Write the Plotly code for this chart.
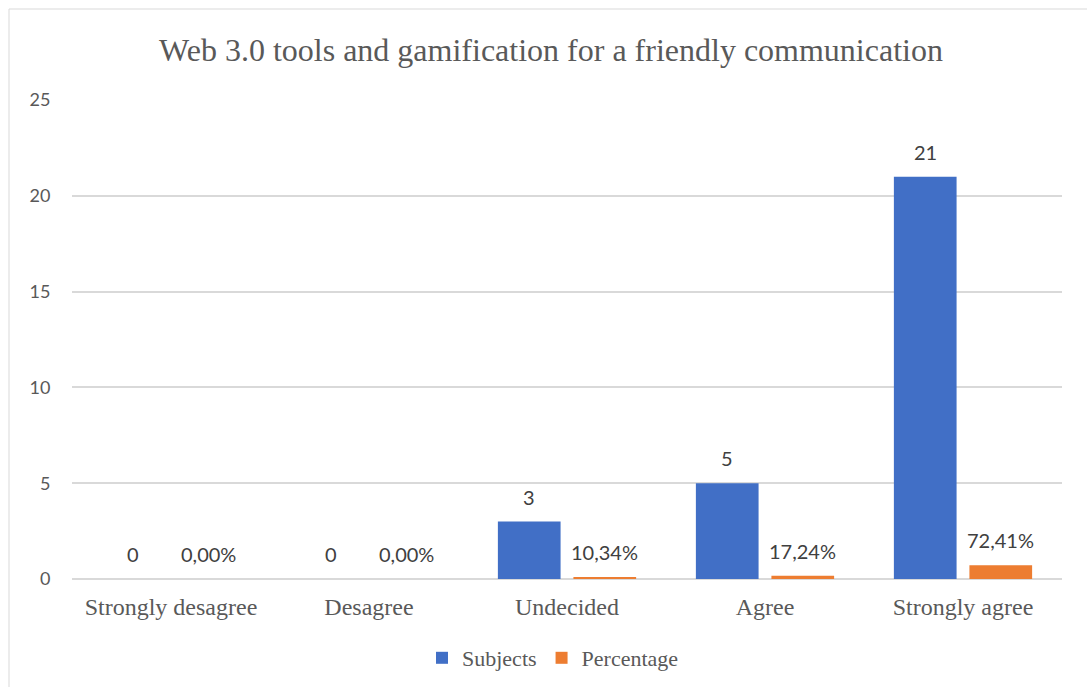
import plotly.graph_objects as go

categories = ["Strongly desagree", "Desagree", "Undecided", "Agree", "Strongly agree"]
subjects = [0, 0, 3, 5, 21]
percentage = [0.0, 0.0, 0.1034, 0.1724, 0.7241]
y_ticks = [0, 5, 10, 15, 20, 25]

W, H = 1087, 687
ml, mr, mt, mb = 72, 25, 100, 108
BARGAP, GROUPGAP = 0.237, 0.17

sans = "Lato, 'Noto Sans', sans-serif"
serif = "'Liberation Serif', 'Times New Roman', serif"

fig = go.Figure()
fig.add_trace(go.Bar(
    name="Subjects", x=categories, y=subjects,
    marker=dict(color="#416FC6", line=dict(width=0)),
))
fig.add_trace(go.Bar(
    name="Percentage", x=categories, y=percentage,
    marker=dict(color="#ED7D31", line=dict(width=0)),
))

# data labels, placed above each bar of the group
slot = (1 - BARGAP) / 2
annotations = []
for i, (s, p) in enumerate(zip(subjects, percentage)):
    annotations.append(dict(x=i - slot / 2, y=s, xref="x", yref="y",
                            text=f"{s}", showarrow=False, yanchor="middle", yshift=25,
                            font=dict(family=sans, size=20, color="#404040")))
    annotations.append(dict(x=i + slot / 2, y=p, xref="x", yref="y",
                            text=f"{p * 100:.2f}%".replace(".", ","), showarrow=False,
                            yanchor="middle", yshift=25,
                            font=dict(family=sans, size=20, color="#404040")))

pw = W - ml - mr
ph = H - mt - mb
# chart-area border (light gray frame)
x0 = (9 - ml) / pw
y1 = (H - mb - 9) / ph
x1 = (W + 5 - ml) / pw
y0 = (H - mb - (H + 5)) / ph

fig.update_layout(
    width=W, height=H,
    margin=dict(l=ml, r=mr, t=mt, b=mb, autoexpand=False),
    paper_bgcolor="white", plot_bgcolor="white",
    barmode="group", bargap=BARGAP, bargroupgap=GROUPGAP,
    title=dict(text="Web 3.0 tools and gamification for a friendly communication",
               x=(551 - ml) / pw, xref="paper", xanchor="center", y=1 - 50 / H, yanchor="middle",
               font=dict(family=serif, size=32, color="#595959")),
    legend=dict(orientation="h", x=(553 - ml) / pw, xanchor="center", xref="paper",
                y=(H - mb - 658) / ph, yanchor="middle",
                font=dict(family=serif, size=22, color="#595959"),
                itemwidth=30, traceorder="normal"),
    xaxis=dict(showgrid=False, showline=False, zeroline=False,
               ticks="outside", ticklen=6, tickcolor="rgba(0,0,0,0)",
               tickfont=dict(family=serif, size=24, color="#595959")),
    yaxis=dict(range=[0, 25], tickvals=y_ticks, showgrid=True,
               gridcolor="#d9d9d9", gridwidth=1.5, zeroline=True,
               zerolinecolor="#d9d9d9", zerolinewidth=1.5, showline=False,
               ticks="outside", ticklen=17, tickcolor="rgba(0,0,0,0)",
               tickfont=dict(family=sans, size=18, color="#595959")),
    annotations=annotations,
    shapes=[dict(type="rect", xref="paper", yref="paper",
                 x0=x0, x1=x1, y0=y0, y1=y1,
                 line=dict(color="#d9d9d9", width=1), fillcolor="rgba(0,0,0,0)",
                 layer="below")],
)

fig.write_html("out.html")
